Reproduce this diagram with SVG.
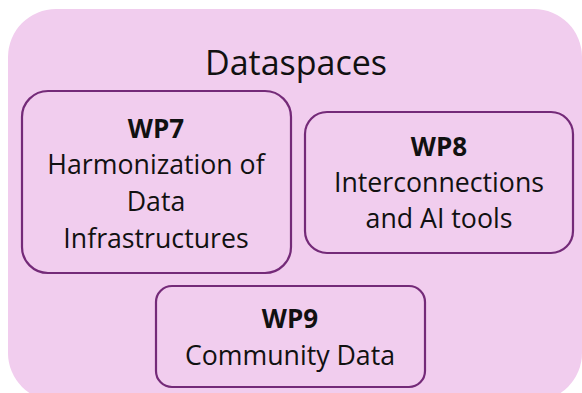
<svg xmlns="http://www.w3.org/2000/svg" width="582" height="393" viewBox="0 0 582 393">
<style>
.bg{fill:#f1cdee}
.box{fill:#f1cdee;stroke:#742a78;stroke-width:2.2}
text{font-family:"Open Sans","Noto Sans",sans-serif;fill:#111;text-anchor:middle}
.t{font-size:34px}
.b{font-size:26px;font-weight:bold}
.n{font-size:26.7px}
</style>
<rect width="582" height="393" fill="#ffffff"/>
<g id="dataspaces">
<rect class="bg" x="8" y="9" width="574" height="392" rx="48" ry="48"/>
<text class="t" x="296" y="75">Dataspaces</text>
</g>
<g id="wp7">
<rect class="box" x="22" y="91" width="269" height="182" rx="26" ry="26"/>
<text class="b" x="156" y="138">WP7</text>
<text class="n" x="156" y="174">Harmonization of</text>
<text class="n" x="156" y="211">Data</text>
<text class="n" x="156" y="248">Infrastructures</text>
</g>
<g id="wp8">
<rect class="box" x="305" y="112" width="268" height="141" rx="22" ry="22"/>
<text class="b" x="439" y="156">WP8</text>
<text class="n" x="439" y="192">Interconnections</text>
<text class="n" x="439" y="228">and AI tools</text>
</g>
<g id="wp9">
<rect class="box" x="156" y="286" width="269" height="101" rx="16" ry="16"/>
<text class="b" x="290" y="328">WP9</text>
<text class="n" x="290" y="365">Community Data</text>
</g>
<g id="connectors"/>
</svg>
